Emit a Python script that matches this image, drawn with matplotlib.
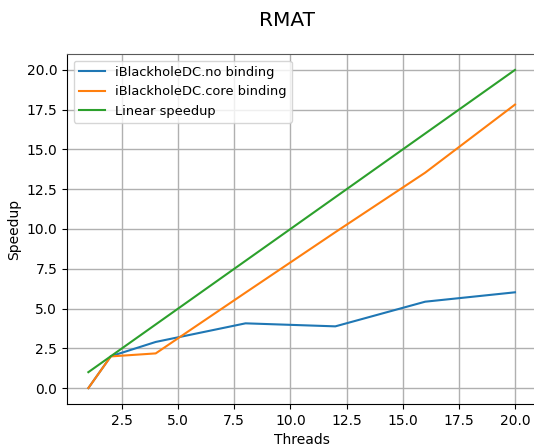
import matplotlib
matplotlib.use("Agg")
import matplotlib.pyplot as plt

threads = [1, 2, 4, 8, 12, 16, 20]
no_binding = [0.0, 2.0, 2.9, 4.07, 3.88, 5.43, 6.02]
core_binding = [0.0, 1.99, 2.18, 6.0, 9.8, 13.54, 17.82]
linear = [1, 2, 4, 8, 12, 16, 20]

fig = plt.figure(figsize=(5.34, 4.46), dpi=100)
ax = fig.add_axes([0.1255, 0.0942, 0.8788, 0.7847])

ax.plot(threads, no_binding, color="#1f77b4", lw=1.5, label="iBlackholeDC.no binding")
ax.plot(threads, core_binding, color="#ff7f0e", lw=1.5, label="iBlackholeDC.core binding")
ax.plot(threads, linear, color="#2ca02c", lw=1.5, label="Linear speedup")

ax.grid(True, color="#b0b0b0", lw=1.0)
ax.set_axisbelow(True)
ax.spines["top"].set_color("0.35")
ax.spines["right"].set_visible(False)
ax.set_xlabel("Threads")
ax.set_ylabel("Speedup")
ax.legend(loc="upper left", fontsize=9.4)

fig.text(287 / 534, 1 - 20 / 446, "RMAT", ha="center", va="center", fontsize=14.5)

fig.savefig("out.png", dpi=100)
